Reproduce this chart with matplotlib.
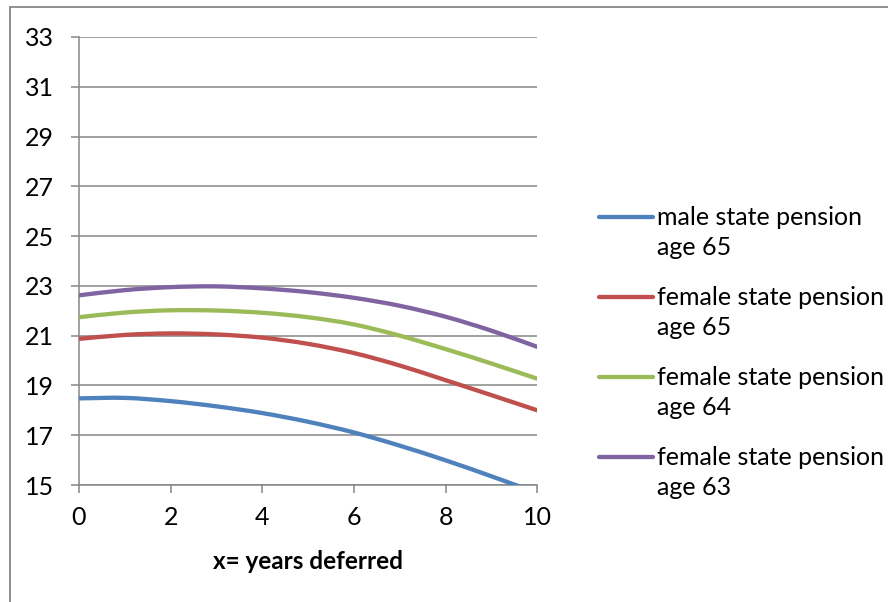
import numpy as np
import matplotlib.pyplot as plt
from matplotlib.lines import Line2D
from matplotlib.patches import Rectangle, PathPatch
from matplotlib.path import Path

plt.rcParams['font.family'] = ['Lato', 'DejaVu Sans']

years = [0, 1, 2, 3, 4, 5, 6, 7, 8, 9, 10]
male_65 = [18.48, 18.50, 18.37, 18.16, 17.89, 17.54, 17.11, 16.58, 15.99, 15.35, 14.68]
female_65 = [20.87, 21.03, 21.09, 21.05, 20.92, 20.67, 20.30, 19.80, 19.21, 18.61, 18.00]
female_64 = [21.74, 21.93, 22.02, 22.01, 21.92, 21.74, 21.45, 21.00, 20.46, 19.88, 19.27]
female_63 = [22.62, 22.83, 22.95, 22.98, 22.90, 22.75, 22.52, 22.20, 21.76, 21.20, 20.55]

labels = ["male state pension\nage 65", "female state pension\nage 65",
          "female state pension\nage 64", "female state pension\nage 63"]
colors = ["#4F81BD", "#C0504D", "#9BBB59", "#8064A2"]
series = [male_65, female_65, female_64, female_63]


def smooth_path(x, y):
    # Excel-style smoothed line: cubic Bezier segments through every point
    x = np.asarray(x, float)
    y = np.asarray(y, float)
    verts = [(x[0], y[0])]
    codes = [Path.MOVETO]
    n = len(x)
    for i in range(n - 1):
        x0, y0 = (x[i - 1], y[i - 1]) if i > 0 else (x[i], y[i])
        x3, y3 = (x[i + 2], y[i + 2]) if i + 2 < n else (x[i + 1], y[i + 1])
        c1 = (x[i] + (x[i + 1] - x0) / 6, y[i] + (y[i + 1] - y0) / 6)
        c2 = (x[i + 1] - (x3 - x[i]) / 6, y[i + 1] - (y3 - y[i]) / 6)
        verts += [c1, c2, (x[i + 1], y[i + 1])]
        codes += [Path.CURVE4] * 3
    return Path(verts, codes)


W, H = 888, 602
fig = plt.figure(figsize=(W / 100, H / 100), dpi=100)
ax = fig.add_axes([79 / W, 1 - 485 / H, (537.3 - 79) / W, (485 - 37) / H])

grey = "#868686"
for ys, c in zip(series, colors):
    ax.add_patch(PathPatch(smooth_path(years, ys), fill=False, edgecolor=c,
                           lw=3.1, capstyle='round', zorder=3))

ax.set_xlim(0, 10)
ax.set_ylim(15, 33)
ax.set_xticks(range(0, 11, 2))
ax.set_yticks(range(15, 34, 2))
ax.grid(axis='y', color=grey, lw=1.1)
ax.set_axisbelow(True)
for s in ['top', 'right']:
    ax.spines[s].set_visible(False)
for s in ['left', 'bottom']:
    ax.spines[s].set_color(grey)
    ax.spines[s].set_linewidth(1.1)
ax.tick_params(axis='y', length=6, width=1.1, color=grey, pad=12, labelsize=18)
ax.tick_params(axis='x', length=6, width=1.1, color=grey, pad=9, labelsize=18)
ax.set_xlabel("x= years deferred", fontsize=17.5, fontweight='bold', labelpad=15)

# legend drawn by hand so the line sits beside the first text row
for i, (lab, c) in enumerate(zip(labels, colors)):
    y = 1 - (217 + 80 * i) / H
    fig.add_artist(Line2D([599 / W, 653 / W], [y, y], color=c, lw=3.1,
                          solid_capstyle='round'))
    fig.text(657 / W, y + 11 / H, lab, fontsize=18, va='top', ha='left',
             linespacing=1.35)

fig.add_artist(Rectangle((9.5 / W, -0.1), 1.2, 1 - 7 / H + 0.1, fill=False,
                         edgecolor=grey, lw=1.3, transform=fig.transFigure))

fig.savefig("out.png", dpi=100)
